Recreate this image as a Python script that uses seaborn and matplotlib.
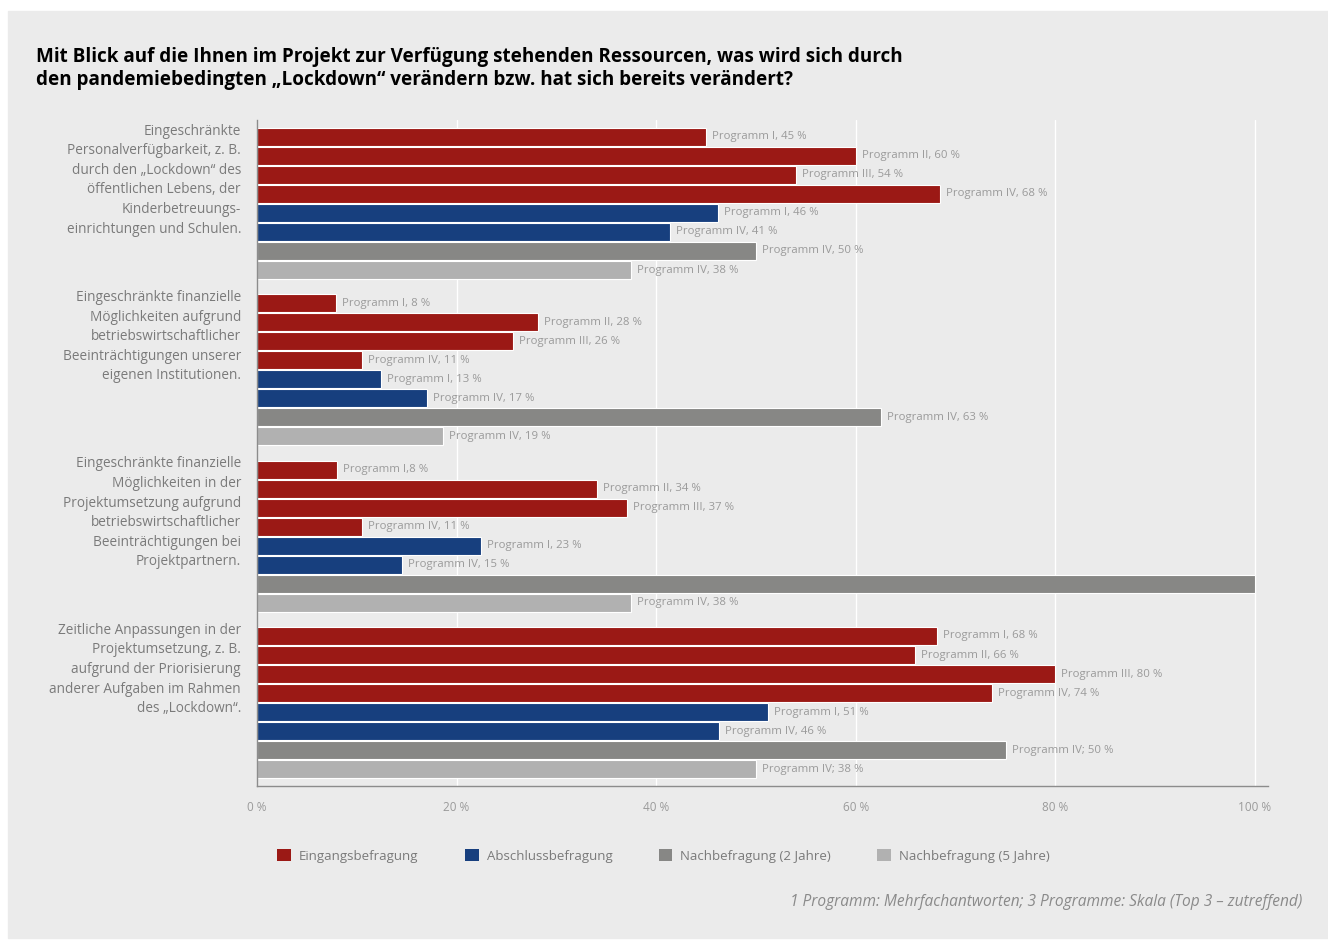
import seaborn as sns
import pandas as pd
import matplotlib.pyplot as plt
from matplotlib.patches import Rectangle, Patch

# Kategorien (von oben nach unten)
categories = [
    "Eingeschränkte\nPersonalverfügbarkeit, z. B.\ndurch den „Lockdown“ des\nöffentlichen Lebens, der\nKinderbetreuungs-\neinrichtungen und Schulen.",
    "Eingeschränkte finanzielle\nMöglichkeiten aufgrund\nbetriebswirtschaftlicher\nBeeinträchtigungen unserer\neigenen Institutionen.",
    "Eingeschränkte finanzielle\nMöglichkeiten in der\nProjektumsetzung aufgrund\nbetriebswirtschaftlicher\nBeeinträchtigungen bei\nProjektpartnern.",
    "Zeitliche Anpassungen in der\nProjektumsetzung, z. B.\naufgrund der Priorisierung\nanderer Aufgaben im Rahmen\ndes „Lockdown“.",
]
series = ["Eingangsbefragung", "Abschlussbefragung",
          "Nachbefragung (2 Jahre)", "Nachbefragung (5 Jahre)"]
colors = ["#9b1915", "#173f7e", "#878785", "#b1b1b1"]

# pro Kategorie 8 Balken: 4x Eingang, 2x Abschluss, 1x Nach 2J, 1x Nach 5J
bar_series = [0, 0, 0, 0, 1, 1, 2, 3]
values = [
    [45, 60, 54, 68.4, 46.2, 41.4, 50, 37.5],
    [7.9, 28.2, 25.7, 10.5, 12.4, 17, 62.5, 18.6],
    [8, 34.1, 37.1, 10.5, 22.4, 14.5, 100, 37.5],
    [68.1, 65.9, 80, 73.6, 51.2, 46.3, 75, 50],
]
bar_labels = [
    ["Programm I, 45 %", "Programm II, 60 %", "Programm III, 54 %", "Programm IV, 68 %",
     "Programm I, 46 %", "Programm IV, 41 %", "Programm IV, 50 %", "Programm IV, 38 %"],
    ["Programm I, 8 %", "Programm II, 28 %", "Programm III, 26 %", "Programm IV, 11 %",
     "Programm I, 13 %", "Programm IV, 17 %", "Programm IV, 63 %", "Programm IV, 19 %"],
    ["Programm I,8 %", "Programm II, 34 %", "Programm III, 37 %", "Programm IV, 11 %",
     "Programm I, 23 %", "Programm IV, 15 %", "", "Programm IV, 38 %"],
    ["Programm I, 68 %", "Programm II, 66 %", "Programm III, 80 %", "Programm IV, 74 %",
     "Programm I, 51 %", "Programm IV, 46 %", "Programm IV; 50 %", "Programm IV; 38 %"],
]
x_ticks = [0, 20, 40, 60, 80, 100]

group_step = 8.75
rows = []
for g in range(len(categories)):
    for j in range(8):
        rows.append({"pos": g * group_step + j, "value": values[g][j],
                     "series": series[bar_series[j]], "label": bar_labels[g][j]})
df = pd.DataFrame(rows)

sns.set_style("white")
plt.rcParams["font.family"] = ["Open Sans", "DejaVu Sans"]

fig = plt.figure(figsize=(13.28, 9.4), dpi=100, facecolor="white")
fig.patches.append(Rectangle((8 / 1328, 2 / 940), 1, (938 - 11) / 940,
                             transform=fig.transFigure, color="#ebebeb", zorder=-1))
ax = fig.add_axes([257 / 1328, 1 - 786 / 940, (1268 - 257) / 1328, (786 - 120) / 940])
ax.set_facecolor("#ebebeb")

sns.barplot(data=df, x="value", y="pos", hue="series", hue_order=series,
            palette=colors, saturation=1, orient="h", native_scale=True, dodge=False,
            width=0.94, edgecolor="white", linewidth=0.8, errorbar=None,
            legend=False, ax=ax, zorder=3)

ax.set_xlim(0, 101.3)
ax.set_ylim(33.19 + 0.95, -0.89)
ax.set_xticks(x_ticks)
ax.set_xticklabels([f"{t} %" for t in x_ticks], color="#9a9a9a", fontsize=8.5)
ax.tick_params(axis="x", length=0, pad=11)
ax.set_yticks([])
ax.set_xlabel("")
ax.set_ylabel("")
ax.grid(axis="x", color="white", linewidth=1, zorder=0)
ax.set_axisbelow(True)
for s in ["top", "right"]:
    ax.spines[s].set_visible(False)
for s in ["left", "bottom"]:
    ax.spines[s].set_color("#8c8c8c")
    ax.spines[s].set_linewidth(1)
    ax.spines[s].set_zorder(5)

# Balkenbeschriftungen
for _, r in df.iterrows():
    if r["label"]:
        ax.text(r["value"] + 0.6, r["pos"], r["label"], va="center", ha="left",
                fontsize=8.2, color="#9a9a9a", zorder=4)

# Kategorietexte links
for g, cat in enumerate(categories):
    ax.text(-1.6, g * group_step - 0.7, cat, ha="right", va="top",
            fontsize=9.8, color="#7a7a7a", linespacing=1.42)

fig.text(36 / 1328, 1 - 47 / 940,
         "Mit Blick auf die Ihnen im Projekt zur Verfügung stehenden Ressourcen, was wird sich durch\n"
         "den pandemiebedingten „Lockdown“ verändern bzw. hat sich bereits verändert?",
         ha="left", va="top", fontsize=13.6, fontweight="bold", color="black", linespacing=1.2)

handles = [Patch(facecolor=c, edgecolor="none") for c in colors]
fig.legend(handles, series, loc="center left", bbox_to_anchor=(265.5 / 1328, 1 - 856 / 940),
           ncol=4, frameon=False, fontsize=9.5, labelcolor="#7a7a7a",
           handlelength=1.05, handleheight=1.05, handletextpad=0.6, columnspacing=3.5)

fig.text(1302 / 1328, 1 - 902 / 940,
         "1 Programm: Mehrfachantworten; 3 Programme: Skala (Top 3 – zutreffend)",
         ha="right", va="center", fontsize=11.2, style="italic", color="#8a8a8a")

fig.savefig("out.png", dpi=100, facecolor="white")
